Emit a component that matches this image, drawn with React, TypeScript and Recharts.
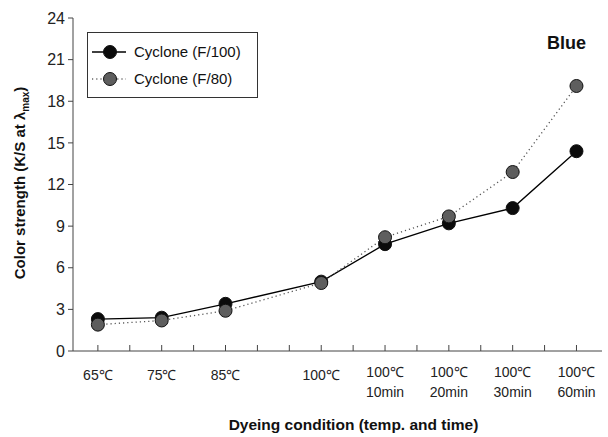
import { LineChart, Line, XAxis, YAxis } from 'recharts';

// categories and their positions on the x scale (gap before 100℃)
const conditions = ['65℃', '75℃', '85℃', '100℃', '100℃|10min', '100℃|20min', '100℃|30min', '100℃|60min'];
const positions = [0, 1, 2, 3.5, 4.5, 5.5, 6.5, 7.5];
const f100 = [2.3, 2.4, 3.4, 5.0, 7.7, 9.2, 10.3, 14.4];
const f80 = [1.9, 2.2, 2.9, 4.9, 8.2, 9.7, 12.9, 19.1];
const xTicks = [0, 0.5, 1, 1.5, 2, 2.5, 3, 3.5, 4, 4.5, 5, 5.5, 6, 6.5, 7, 7.5];
const yTicks = [0, 3, 6, 9, 12, 15, 18, 21, 24];

const data = positions.map((x, i) => ({ x, label: conditions[i], f100: f100[i], f80: f80[i] }));

const FONT = '"Liberation Sans", Arial, sans-serif';
const AXIS = '#444';

function XTick(props: any) {
  const { x, y, payload } = props;
  const idx = positions.indexOf(payload.value);
  const lines = idx >= 0 ? conditions[idx].split('|') : [];
  return (
    <g>
      <line x1={x} x2={x} y1={y} y2={y - 6} stroke={AXIS} strokeWidth={1} />
      {lines.length === 1 && (
        <text x={x} y={y + 29} textAnchor="middle" fontSize={14} fill="#222" fontFamily={FONT}>
          {lines[0]}
        </text>
      )}
      {lines.length === 2 && (
        <text x={x} y={y + 26} textAnchor="middle" fontSize={14} fill="#222" fontFamily={FONT}>
          <tspan x={x}>{lines[0]}</tspan>
          <tspan x={x} dy={20}>{lines[1]}</tspan>
        </text>
      )}
    </g>
  );
}

function YLabel() {
  return (
    <text
      x={0}
      y={0}
      transform="translate(25,183) rotate(-90)"
      textAnchor="middle"
      fontSize={15}
      fontWeight="bold"
      fill="#111"
      fontFamily={FONT}
    >
      Color strength (K/S at λ<tspan fontSize={10} dy={4}>max</tspan>
      <tspan dy={-4}>)</tspan>
    </text>
  );
}

function LegendBox() {
  const rows = [
    { name: 'Cyclone (F/100)', fill: '#0b0b0b', dash: undefined, stroke: '#000' },
    { name: 'Cyclone (F/80)', fill: '#5e5e5e', dash: '1.2 3', stroke: '#666' },
  ];
  return (
    <div
      style={{
        position: 'absolute',
        left: 87,
        top: 32,
        width: 169,
        height: 64,
        border: '1.5px solid #333',
        background: '#fff',
      }}
    >
      <svg width={169} height={64} style={{ position: 'absolute', left: 0, top: 0 }}>
        {rows.map((r, i) => {
          const cy = 19 + i * 27;
          return (
            <g key={r.name}>
              <line x1={4} x2={38} y1={cy} y2={cy} stroke={r.stroke} strokeWidth={1.3} strokeDasharray={r.dash} />
              <circle cx={22} cy={cy} r={6.5} fill={r.fill} stroke="#111" strokeWidth={1} />
              <text x={46} y={cy + 5} fontSize={15} fill="#111" fontFamily={FONT}>
                {r.name}
              </text>
            </g>
          );
        })}
      </svg>
    </div>
  );
}

export default function App() {
  return (
    <div style={{ position: 'absolute', left: 0, top: 0, width: 608, height: 437, background: '#fff' }}>
      <LineChart width={608} height={437} data={data} margin={{ top: 18, right: 6, bottom: 0, left: 0 }}>
        <XAxis
          dataKey="x"
          type="number"
          domain={[-0.39, 7.9]}
          ticks={xTicks}
          interval={0}
          allowDataOverflow
          height={86}
          stroke={AXIS}
          tickLine={false}
          tickSize={0}
          tickMargin={0}
          tick={<XTick />}
          label={{
            value: 'Dyeing condition (temp. and time)',
            position: 'insideBottom',
            offset: 7,
            fontSize: 15.5,
            fontWeight: 'bold',
            fill: '#111',
            fontFamily: FONT,
            dx: 16,
          }}
        />
        <XAxis xAxisId="top" dataKey="x" type="number" orientation="top" domain={[-0.39, 7.9]} height={0} tick={false} tickLine={false} stroke={AXIS} />
        <YAxis
          domain={[0, 24]}
          ticks={yTicks}
          interval={0}
          width={73}
          stroke={AXIS}
          tickSize={5}
          tickMargin={3}
          tick={{ fontSize: 16, fill: '#222', fontFamily: FONT }}
          label={<YLabel />}
        />
        <YAxis yAxisId="right" orientation="right" domain={[0, 24]} width={0} tick={false} tickLine={false} stroke={AXIS} />
        <Line
          dataKey="f100"
          stroke="#000"
          strokeWidth={1.3}
          isAnimationActive={false}
          dot={{ r: 6.5, fill: '#0b0b0b', stroke: '#111', strokeWidth: 1 }}
          activeDot={false}
        />
        <Line
          dataKey="f80"
          stroke="#555"
          strokeWidth={1.3}
          strokeDasharray="1.2 3"
          isAnimationActive={false}
          dot={{ r: 6.5, fill: '#5e5e5e', stroke: '#111', strokeWidth: 1, strokeDasharray: '' }}
          activeDot={false}
        />
      </LineChart>
      <LegendBox />
      <div
        style={{
          position: 'absolute',
          right: 22,
          top: 33,
          fontFamily: FONT,
          fontWeight: 'bold',
          fontSize: 18,
          color: '#111',
        }}
      >
        Blue
      </div>
    </div>
  );
}
